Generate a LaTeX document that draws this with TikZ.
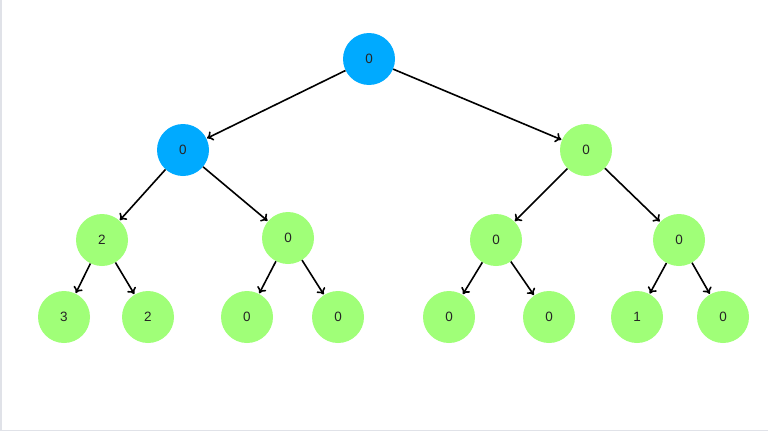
\documentclass[tikz,border=0pt]{standalone}
\usepackage{fontspec}
\setmainfont{Liberation Sans}
\usetikzlibrary{arrows.meta}
\definecolor{nblue}{RGB}{0,170,255}
\definecolor{ngreen}{RGB}{160,255,120}
\definecolor{frame}{RGB}{224,226,232}
\tikzset{
  tn/.style={circle, minimum size=52pt, inner sep=0pt, font=\fontsize{13.5}{13.5}\selectfont, text=black!85},
  bn/.style={tn, fill=nblue},
  gn/.style={tn, fill=ngreen},
  edge/.style={draw=black, line width=1.6pt, -{To[length=6pt,width=10pt]}, shorten >=0.5pt}
}
\begin{document}
\begin{tikzpicture}[x=1pt,y=-1pt]
\useasboundingbox (0,0) rectangle (768,431);
\fill[white] (0,0) rectangle (768,431);
\draw[frame, line width=1.5pt] (0.75,0) -- (0.75,430.25) -- (768,430.25);
\node[bn] (r) at (369,59) {0};
\node[bn] (a) at (183,150) {0};
\node[gn] (b) at (586,150) {0};
\node[gn] (a1) at (102,240) {2};
\node[gn] (a2) at (288,238) {0};
\node[gn] (b1) at (496,240) {0};
\node[gn] (b2) at (679,240) {0};
\node[gn] (c1) at (64,317) {3};
\node[gn] (c2) at (148,317) {2};
\node[gn] (c3) at (247,317) {0};
\node[gn] (c4) at (338,317) {0};
\node[gn] (c5) at (449,317) {0};
\node[gn] (c6) at (549,317) {0};
\node[gn] (c7) at (637,317) {1};
\node[gn] (c8) at (723,317) {0};
\draw[edge] (r) -- (a);
\draw[edge] (r) -- (b);
\draw[edge] (a) -- (a1);
\draw[edge] (a) -- (a2);
\draw[edge] (b) -- (b1);
\draw[edge] (b) -- (b2);
\draw[edge] (a1) -- (c1);
\draw[edge] (a1) -- (c2);
\draw[edge] (a2) -- (c3);
\draw[edge] (a2) -- (c4);
\draw[edge] (b1) -- (c5);
\draw[edge] (b1) -- (c6);
\draw[edge] (b2) -- (c7);
\draw[edge] (b2) -- (c8);
\end{tikzpicture}
\end{document}
